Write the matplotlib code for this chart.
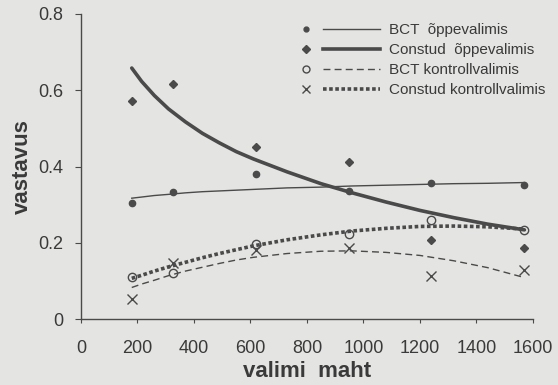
import numpy as np
import matplotlib
matplotlib.use('Agg')
import matplotlib.pyplot as plt
from matplotlib.legend_handler import HandlerBase
from matplotlib.lines import Line2D

plt.rcParams['font.family'] = ['Liberation Sans', 'DejaVu Sans']

# observed points
sample_size = [180, 325, 620, 950, 1240, 1570]
bct_train = [0.305, 0.334, 0.381, 0.335, 0.356, 0.352]
constud_train = [0.572, 0.616, 0.452, 0.413, 0.207, 0.186]
bct_control = [0.111, 0.120, 0.196, 0.222, 0.260, 0.234]
constud_control = [0.052, 0.146, 0.181, 0.186, 0.113, 0.129]

# trend lines
trend_x = [180, 215, 260, 310, 370, 430, 490, 550, 610, 730, 850, 960, 1080, 1200, 1320, 1440, 1570]
trend_bct_train = [0.317, 0.320, 0.324, 0.327, 0.331, 0.334, 0.336, 0.338, 0.340, 0.344, 0.346,
                   0.349, 0.351, 0.353, 0.355, 0.356, 0.358]
trend_constud_train = [0.658, 0.623, 0.586, 0.551, 0.517, 0.487, 0.462, 0.439, 0.420, 0.386, 0.355,
                       0.331, 0.307, 0.285, 0.266, 0.249, 0.234]
trend_bct_control = [0.083, 0.092, 0.102, 0.114, 0.126, 0.136, 0.146, 0.155, 0.162, 0.172, 0.178,
                     0.179, 0.175, 0.167, 0.153, 0.135, 0.109]
trend_constud_control = [0.107, 0.115, 0.126, 0.137, 0.149, 0.161, 0.172, 0.182, 0.192, 0.208, 0.221,
                         0.231, 0.238, 0.243, 0.244, 0.242, 0.236]

labels = ['BCT  õppevalimis', 'Constud  õppevalimis', 'BCT kontrollvalimis', 'Constud kontrollvalimis']

bg = '#e4e4e2'
ink = '#4a4a4a'
txt = '#3a3a3a'


class MarkerThenLine(HandlerBase):
    # marker on the left, separate line segment on the right
    def create_artists(self, legend, orig_handle, xdescent, ydescent, width, height, fontsize, trans):
        mk, ln = orig_handle
        y = height / 2 - ydescent
        m = Line2D([-xdescent + 0.07 * width], [y])
        m.update_from(mk)
        m.set_transform(trans)
        l = Line2D([-xdescent + 0.29 * width, -xdescent + width], [y, y])
        l.update_from(ln)
        l.set_transform(trans)
        return [m, l]


fig = plt.figure(figsize=(5.58, 3.85), dpi=100, facecolor=bg)
ax = fig.add_axes([0.145, 0.171, 0.810, 0.793])
ax.set_facecolor(bg)

ax.plot(trend_x, trend_bct_train, color=ink, lw=1.0)
ax.plot(trend_x, trend_constud_train, color=ink, lw=2.6, solid_capstyle='round')
ax.plot(trend_x, trend_bct_control, color=ink, lw=1.0, linestyle=(0, (5, 3)))
ax.plot(trend_x, trend_constud_control, color=ink, lw=2.6, linestyle=(0, (1.0, 0.7)))

ax.plot(sample_size, bct_train, 'o', color=ink, ms=4.5, ls='none')
ax.plot(sample_size, constud_train, 'D', color=ink, ms=4.5, ls='none')
ax.plot(sample_size, bct_control, 'o', mfc='none', mec=ink, mew=1.0, ms=6, ls='none')
ax.plot(sample_size, constud_control, 'x', color=ink, mew=1.0, ms=6.5, ls='none')

ax.set_xlim(0, 1600)
ax.set_ylim(0, 0.8)
ax.set_xticks(range(0, 1601, 200))
ax.set_yticks([0, 0.2, 0.4, 0.6, 0.8])
ax.set_yticklabels(['0', '0.2', '0.4', '0.6', '0.8'])
for s in ['top', 'right']:
    ax.spines[s].set_visible(False)
for s in ['left', 'bottom']:
    ax.spines[s].set_color(ink)
    ax.spines[s].set_linewidth(1.0)
ax.tick_params(axis='both', colors=ink, labelcolor=txt, labelsize=13, width=0.8)
ax.tick_params(axis='x', length=3, pad=12)
ax.tick_params(axis='y', length=4.5, pad=8)
ax.set_xlabel('valimi  maht', fontsize=16, fontweight='bold', color=txt, labelpad=3)
ax.set_ylabel('vastavus', fontsize=16, fontweight='bold', color=txt, labelpad=4)

handles = [
    (Line2D([], [], marker='o', color=ink, ms=3.5, ls='none'), Line2D([], [], color=ink, lw=1.0)),
    (Line2D([], [], marker='D', color=ink, ms=4, ls='none'), Line2D([], [], color=ink, lw=2.6)),
    (Line2D([], [], marker='o', mfc='none', mec=ink, ms=5, ls='none'), Line2D([], [], color=ink, lw=1.0, ls=(0, (5, 3)))),
    (Line2D([], [], marker='x', color=ink, ms=5.5, ls='none'), Line2D([], [], color=ink, lw=2.6, ls=(0, (1.0, 0.7)))),
]
leg = fig.legend(handles, labels, handler_map={tuple: MarkerThenLine()},
                 loc='upper left', bbox_to_anchor=(0.5376, 0.94), bbox_transform=fig.transFigure,
                 frameon=False, fontsize=11, borderpad=0, borderaxespad=0,
                 handlelength=5.23, handletextpad=0.59, labelspacing=0.40, labelcolor=txt)

fig.savefig('out.png', dpi=100, facecolor=bg)
